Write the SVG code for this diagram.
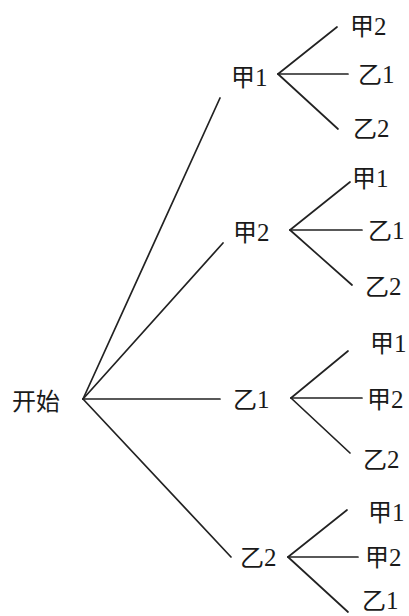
<svg xmlns="http://www.w3.org/2000/svg" width="409" height="616" viewBox="0 0 409 616">
<style>
text{font-family:"Noto Sans CJK SC",sans-serif;font-size:24px;fill:#1a1a1a}
text tspan.d{font-family:"Liberation Serif","Times New Roman",serif;font-size:25px}
line{stroke:#222;stroke-width:1.7;stroke-linecap:round}
</style>
<rect width="409" height="616" fill="#fff"/>
<g id="connectors">
<line x1="83" y1="399" x2="220" y2="98"/>
<line x1="83" y1="399" x2="223" y2="243"/>
<line x1="83" y1="399" x2="220" y2="399"/>
<line x1="83" y1="399" x2="231" y2="557"/>
<line x1="278" y1="74" x2="337" y2="27"/>
<line x1="278" y1="74" x2="348" y2="74"/>
<line x1="278" y1="74" x2="338" y2="129"/>
<line x1="290" y1="230" x2="350" y2="182"/>
<line x1="290" y1="230" x2="362" y2="230"/>
<line x1="290" y1="230" x2="352" y2="285"/>
<line x1="291" y1="398" x2="348" y2="351"/>
<line x1="291" y1="398" x2="362" y2="398"/>
<line x1="291" y1="398" x2="350" y2="453"/>
<line x1="288" y1="557" x2="347" y2="510"/>
<line x1="288" y1="557" x2="358" y2="557"/>
<line x1="288" y1="557" x2="348" y2="612"/>
</g>
<g id="root"><text x="12" y="410">开始</text></g>
<g id="n-jia1"><text x="231" y="86">甲<tspan class="d" font-family="Liberation Serif">1</tspan></text></g>
<g id="n-jia2"><text x="233" y="241">甲<tspan class="d" font-family="Liberation Serif">2</tspan></text></g>
<g id="n-yi1"><text x="233" y="408">乙<tspan class="d" font-family="Liberation Serif">1</tspan></text></g>
<g id="n-yi2"><text x="240" y="566">乙<tspan class="d" font-family="Liberation Serif">2</tspan></text></g>
<g id="l-jia1-jia2"><text x="350" y="35">甲<tspan class="d" font-family="Liberation Serif">2</tspan></text></g>
<g id="l-jia1-yi1"><text x="358" y="83">乙<tspan class="d" font-family="Liberation Serif">1</tspan></text></g>
<g id="l-jia1-yi2"><text x="353" y="137">乙<tspan class="d" font-family="Liberation Serif">2</tspan></text></g>
<g id="l-jia2-jia1"><text x="352" y="187">甲<tspan class="d" font-family="Liberation Serif">1</tspan></text></g>
<g id="l-jia2-yi1"><text x="368" y="239">乙<tspan class="d" font-family="Liberation Serif">1</tspan></text></g>
<g id="l-jia2-yi2"><text x="365" y="295">乙<tspan class="d" font-family="Liberation Serif">2</tspan></text></g>
<g id="l-yi1-jia1"><text x="370" y="352">甲<tspan class="d" font-family="Liberation Serif">1</tspan></text></g>
<g id="l-yi1-jia2"><text x="367" y="408">甲<tspan class="d" font-family="Liberation Serif">2</tspan></text></g>
<g id="l-yi1-yi2"><text x="363" y="468">乙<tspan class="d" font-family="Liberation Serif">2</tspan></text></g>
<g id="l-yi2-jia1"><text x="368" y="521">甲<tspan class="d" font-family="Liberation Serif">1</tspan></text></g>
<g id="l-yi2-jia2"><text x="365" y="566">甲<tspan class="d" font-family="Liberation Serif">2</tspan></text></g>
<g id="l-yi2-yi1"><text x="362" y="609">乙<tspan class="d" font-family="Liberation Serif">1</tspan></text></g>
</svg>
